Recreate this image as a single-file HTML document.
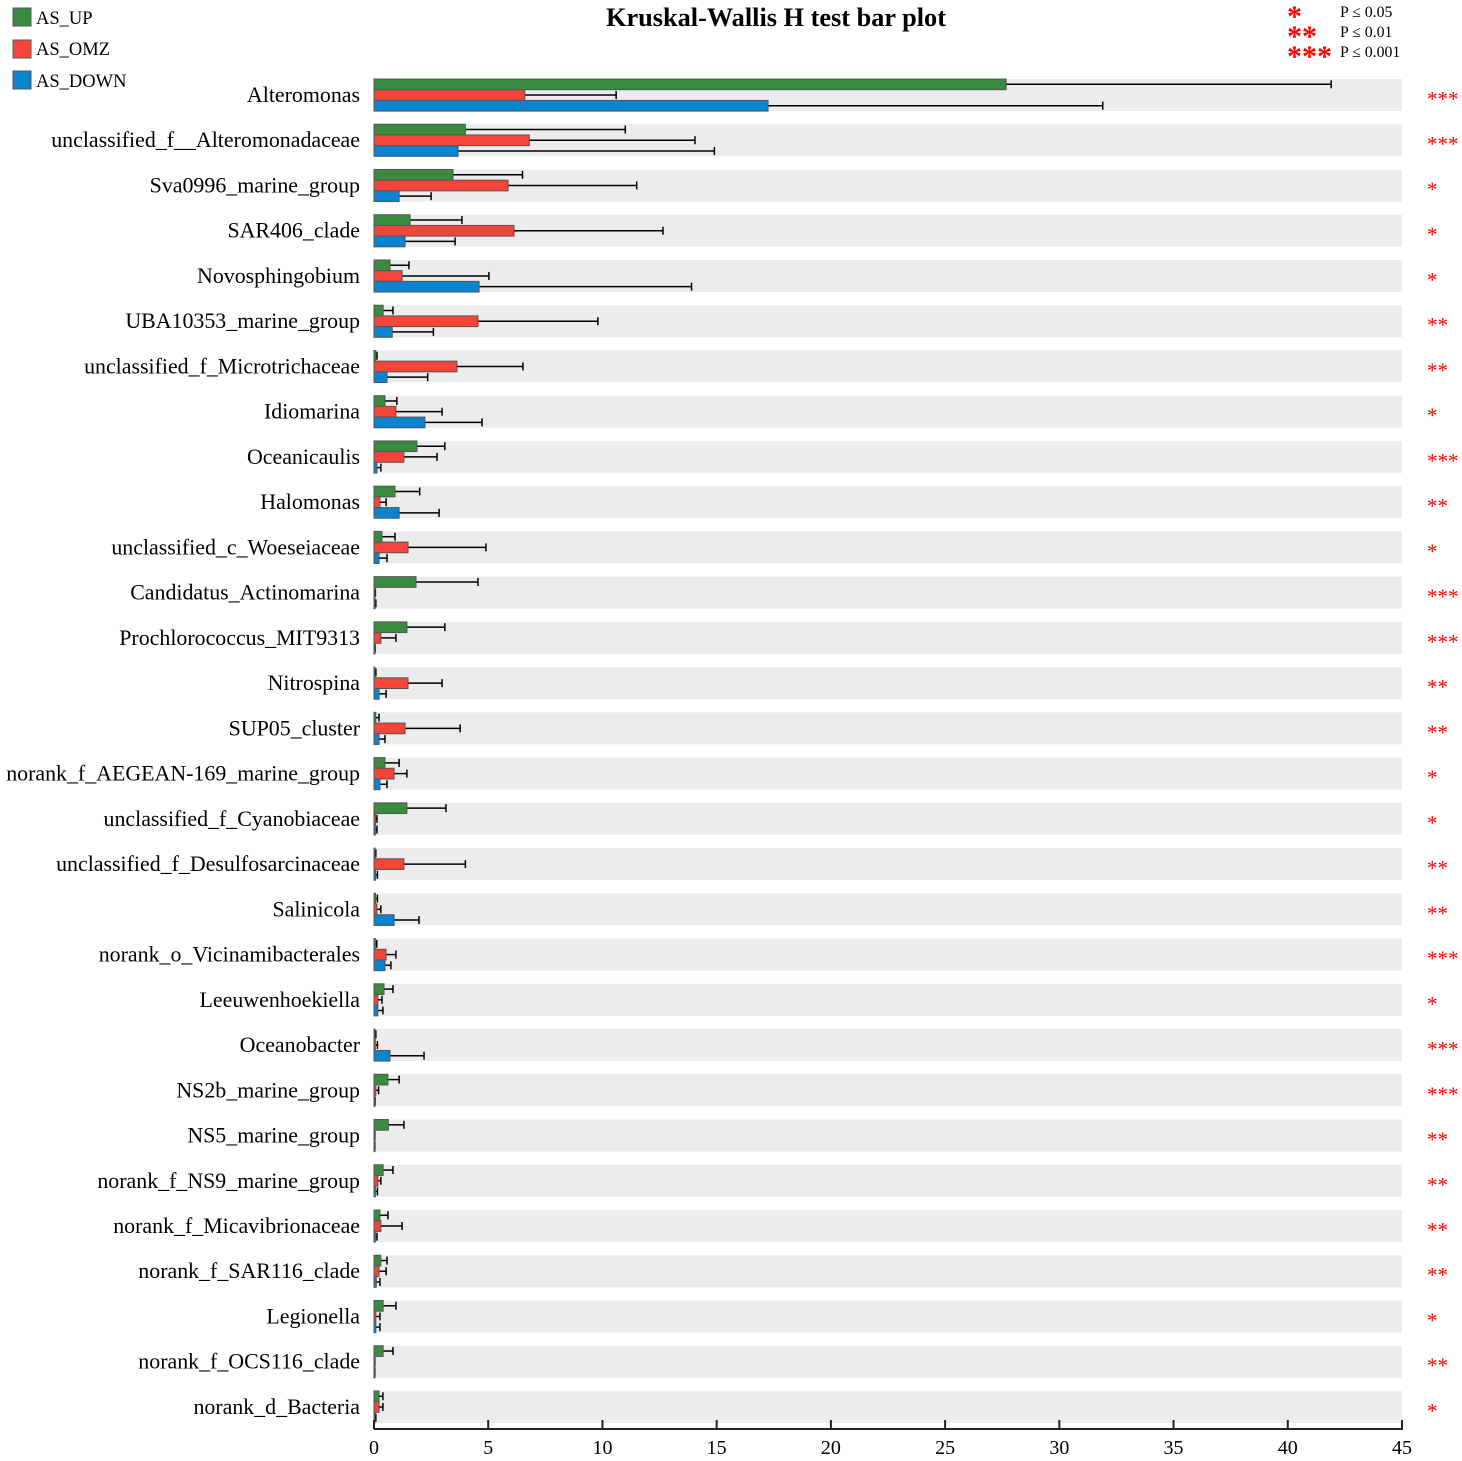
<!DOCTYPE html>
<html><head><meta charset="utf-8"><style>
body{margin:0;background:#fff}
svg{display:block;font-family:"Liberation Serif",serif}
</style></head><body>
<svg id="chart" width="1462" height="1461">
<text x="776" y="26" text-anchor="middle" font-size="26.3" font-weight="bold">Kruskal-Wallis H test bar plot</text>
<g>
<rect x="13" y="8" width="18" height="18" fill="#3a8a3f" stroke="#555"/>
<text x="36" y="24" font-size="18.5">AS_UP</text>
<rect x="13" y="40" width="18" height="18" fill="#f3453a" stroke="#555"/>
<text x="36" y="55" font-size="18.5">AS_OMZ</text>
<rect x="13" y="71" width="18" height="18" fill="#0b84d0" stroke="#555"/>
<text x="36" y="87" font-size="18.5">AS_DOWN</text>
</g>
<g fill="red">
<text x="1287" y="26" font-size="30" font-weight="bold">*</text>
<text x="1287" y="46" font-size="30" font-weight="bold">**</text>
<text x="1287" y="66" font-size="30" font-weight="bold">***</text>
<text x="1340" y="17" font-size="15.8" fill="#000">P ≤ 0.05</text>
<text x="1340" y="37" font-size="15.8" fill="#000">P ≤ 0.01</text>
<text x="1340" y="57" font-size="15.8" fill="#000">P ≤ 0.001</text>
</g>
</svg>
<script>
const categories=["Alteromonas","unclassified_f__Alteromonadaceae","Sva0996_marine_group","SAR406_clade","Novosphingobium","UBA10353_marine_group","unclassified_f_Microtrichaceae","Idiomarina","Oceanicaulis","Halomonas","unclassified_c_Woeseiaceae","Candidatus_Actinomarina","Prochlorococcus_MIT9313","Nitrospina","SUP05_cluster","norank_f_AEGEAN-169_marine_group","unclassified_f_Cyanobiaceae","unclassified_f_Desulfosarcinaceae","Salinicola","norank_o_Vicinamibacterales","Leeuwenhoekiella","Oceanobacter","NS2b_marine_group","NS5_marine_group","norank_f_NS9_marine_group","norank_f_Micavibrionaceae","norank_f_SAR116_clade","Legionella","norank_f_OCS116_clade","norank_d_Bacteria"];
const upVals=[27.67,4.0,3.46,1.58,0.7,0.4,0.08,0.48,1.88,0.92,0.35,1.84,1.44,0.04,0.08,0.48,1.44,0.04,0.07,0.06,0.44,0.03,0.61,0.63,0.4,0.26,0.3,0.4,0.4,0.22];
const upErr=[41.9,11.0,6.5,3.85,1.53,0.83,0.13,1.0,3.1,2.0,0.92,4.55,3.1,0.08,0.22,1.1,3.15,0.08,0.15,0.12,0.83,0.08,1.1,1.31,0.83,0.61,0.57,0.96,0.83,0.39];
const omzVals=[6.6,6.8,5.87,6.13,1.23,4.55,3.63,0.96,1.31,0.26,1.49,0.04,0.3,1.49,1.36,0.88,0.07,1.31,0.13,0.53,0.17,0.06,0.08,0.02,0.17,0.3,0.22,0.08,0.02,0.22];
const omzErr=[10.6,14.05,11.5,12.65,5.03,9.8,6.52,2.98,2.76,0.53,4.9,0.06,0.96,2.98,3.77,1.44,0.13,4.0,0.3,0.96,0.35,0.15,0.2,0.04,0.3,1.23,0.53,0.26,0.04,0.39];
const downVals=[17.25,3.68,1.1,1.36,4.6,0.8,0.57,2.23,0.13,1.1,0.22,0.04,0.03,0.22,0.22,0.26,0.06,0.07,0.88,0.48,0.17,0.7,0.03,0.02,0.06,0.06,0.1,0.08,0.02,0.04];
const downErr=[31.9,14.9,2.5,3.55,13.9,2.6,2.35,4.73,0.3,2.85,0.57,0.08,0.05,0.53,0.48,0.57,0.13,0.15,1.97,0.74,0.39,2.19,0.05,0.04,0.15,0.13,0.26,0.26,0.04,0.08];
const sig=["***","***","*","*","*","**","**","*","***","**","*","***","***","**","**","*","*","**","**","***","*","***","***","**","**","**","**","*","**","*"];
const xTicks=[0,5,10,15,20,25,30,35,40,45];

const svg=document.getElementById('chart');
const NS='http://www.w3.org/2000/svg';
const x0=374,x1=1402,xMax=45;
const xs=v=>x0+v/xMax*(x1-x0);
const rowTop=i=>79+i*45.24;
function mk(tag,attrs){const e=document.createElementNS(NS,tag);for(const k in attrs)e.setAttribute(k,attrs[k]);svg.appendChild(e);return e;}
const series=[[upVals,upErr,'#3a8a3f','up'],[omzVals,omzErr,'#f3453a','omz'],[downVals,downErr,'#0b84d0','down']];
categories.forEach((c,i)=>{
  const t=rowTop(i);
  const band=mk('rect',{x:x0,y:t,width:x1-x0,height:32,fill:'#ececec'});
  
  
  const lab=mk('text',{x:360,y:t+23,'text-anchor':'end','font-size':21.9});
  lab.textContent=c;
  
  
  series.forEach((s,j)=>{
    const y=t+j*10.7;
    const ey=y+5.3;
    const el=mk('line',{x1:xs(s[0][i]),x2:xs(s[1][i]),y1:ey,y2:ey,stroke:'#000','stroke-width':1.5});
    
    
    const cap=mk('line',{x1:xs(s[1][i]),x2:xs(s[1][i]),y1:ey-4,y2:ey+4,stroke:'#000','stroke-width':1.5});
    
    
    const b=mk('rect',{x:x0,y:y,width:Math.max(xs(s[0][i])-x0,1),height:10.7,fill:s[2],stroke:'#555','stroke-width':1});
    
    
  });
  const st=mk('text',{x:1427,y:t+27,'font-size':21,fill:'red'});
  st.textContent=sig[i];
  
  
});
const ax=mk('line',{x1:x0,x2:x1+1,y1:1429,y2:1429,stroke:'#222','stroke-width':2});


xTicks.forEach(v=>{
  const tk=mk('line',{x1:xs(v),x2:xs(v),y1:1420,y2:1429,stroke:'#222','stroke-width':2});
  
  
  const tl=mk('text',{x:xs(v),y:1454,'text-anchor':'middle','font-size':20});
  tl.textContent=v;
  
  
});
</script>
</body></html>
